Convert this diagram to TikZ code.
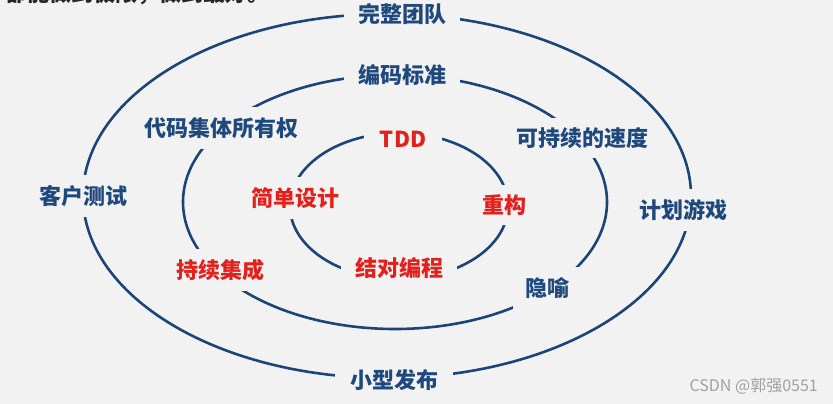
\documentclass[tikz,border=0pt]{standalone}
\usepackage{fontspec}
\setmainfont{Noto Sans CJK SC}
\definecolor{bg}{HTML}{F2F2F2}
\definecolor{ringblue}{HTML}{1B4577}
\definecolor{txtblue}{HTML}{1F497D}
\definecolor{txtred}{HTML}{E2201C}
\definecolor{wmgray}{HTML}{A0A0A0}
\begin{document}
\begin{tikzpicture}[x=1pt,y=-1pt,
  ring/.style={draw=ringblue,line width=2.6pt},
  lbl/.style={fill=bg,inner xsep=12pt,inner ysep=10pt,font=\fontsize{22}{26}\selectfont\bfseries},
  bluelbl/.style={lbl,text=txtblue},
  redlbl/.style={lbl,text=txtred}]
\fill[bg] (0,0) rectangle (833,404);
\useasboundingbox (0,0) rectangle (833,404);
% rings
\draw[ring] (387,196) ellipse [x radius=304pt, y radius=182pt];
\draw[ring] (395,202) ellipse [x radius=212pt, y radius=127pt];
\draw[ring] (399,206) ellipse [x radius=109pt, y radius=73pt];
% outer ring labels
\node[bluelbl,inner xsep=14pt] (team) at (402,14) {完整团队};
\node[bluelbl] (cust) at (83,196) {客户测试};
\node[bluelbl] (plan) at (683,210) {计划游戏};
\node[bluelbl,inner xsep=15pt] (rel) at (394,380) {小型发布};
% middle ring labels
\node[bluelbl,inner xsep=14pt] (std) at (402,75) {编码标准};
\node[bluelbl] (own) at (221,128) {代码集体所有权};
\node[bluelbl,inner ysep=9pt] (pace) at (582,138) {可持续的速度};
\node[redlbl] (ci) at (220,270) {持续集成};
\node[bluelbl] (met) at (547,288) {隐喻};
% inner ring labels
\node[redlbl,inner xsep=16pt] (tdd) at (403,139) {TDD};
\node[redlbl] (simple) at (295,198) {简单设计};
\node[redlbl] (refac) at (504,205) {重构};
\node[redlbl,inner xsep=14pt] (pair) at (399,268) {结对编程};
% clipped caption at top and watermark
\node[anchor=base east,text=black!85,font=\fontsize{22}{26}\selectfont\bfseries,inner sep=0pt] (cap) at (270,1.5) {都能做到极限，做到最好。};
\node[anchor=east,text=wmgray,font=\fontsize{16}{18}\selectfont,inner sep=0pt] (wm) at (818,386) {CSDN @郭强0551};
\end{tikzpicture}
\end{document}
